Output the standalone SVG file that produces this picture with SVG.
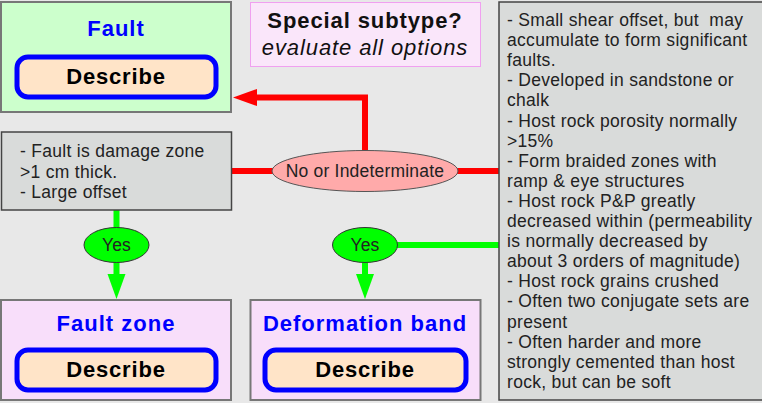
<svg xmlns="http://www.w3.org/2000/svg" width="762" height="403" viewBox="0 0 762 403">
<defs>
<style>
.bg{fill:#e8e8e8}
.box{stroke:#777;stroke-width:2}
.note{fill:#d9dbda;stroke:#444;stroke-width:1.5}
.title{font-family:"Liberation Sans",Arial,sans-serif;font-weight:bold;font-size:22px;fill:#0000ff;text-anchor:middle;letter-spacing:1px}
.btn{fill:#ffe4c8;stroke:#0000ff;stroke-width:5}
.btnt{font-family:"Liberation Sans",Arial,sans-serif;font-weight:bold;font-size:22px;fill:#000;text-anchor:middle;letter-spacing:0.8px}
.hd{font-family:"Liberation Sans",Arial,sans-serif;font-size:22px;fill:#111;text-anchor:middle;letter-spacing:0.9px}
.txt{font-family:"Liberation Sans",Arial,sans-serif;font-size:17.5px;fill:#222;letter-spacing:0.3px}
.lbl{font-family:"Liberation Sans",Arial,sans-serif;font-size:17.5px;fill:#222;text-anchor:middle;letter-spacing:0.2px}
.red{stroke:#ff0000;stroke-width:6;fill:none}
.grn{stroke:#00ff00;stroke-width:6;fill:none}
</style>
</defs>
<rect class="bg" x="0" y="0" width="762" height="403"/>

<g id="connectors">
<path class="red" d="M231 171 H499"/>
<path class="red" d="M365 171 V97.5 H252"/>
<polygon points="233,97.5 257,89 257,106" fill="#ff0000"/>
<path class="grn" d="M116.5 210 V278"/>
<polygon points="107.5,274 125.5,274 116.5,299" fill="#00ff00"/>
<path class="grn" d="M365 245 H499"/>
<path class="grn" d="M365 262 V278"/>
<polygon points="356,274 374,274 365,299" fill="#00ff00"/>
</g>

<g id="fault">
<rect class="box" x="1" y="2" width="230" height="110" fill="#ccffcc"/>
<text class="title" x="116" y="36">Fault</text>
<rect class="btn" x="17" y="57" width="199" height="40" rx="11"/>
<text class="btnt" x="116" y="84">Describe</text>
</g>

<g id="special">
<rect x="250.5" y="2.5" width="230" height="64" fill="#fae6fa" stroke="#f0a0f0" stroke-width="1"/>
<text class="hd" x="365" y="28" font-weight="bold">Special subtype?</text>
<text class="hd" x="365" y="55" font-style="italic">evaluate all options</text>
</g>

<g id="criteria">
<rect class="note" x="499" y="2" width="265" height="398"/>
<text class="txt">
<tspan x="507" y="26">- Small shear offset, but&#160; may</tspan>
<tspan x="507" y="46.1">accumulate to form significant</tspan>
<tspan x="507" y="66.2">faults.</tspan>
<tspan x="507" y="86.3">- Developed in sandstone or</tspan>
<tspan x="507" y="106.4">chalk</tspan>
<tspan x="507" y="126.5">- Host rock porosity normally</tspan>
<tspan x="507" y="146.6">&gt;15%</tspan>
<tspan x="507" y="166.7">- Form braided zones with</tspan>
<tspan x="507" y="186.8">ramp &amp; eye structures</tspan>
<tspan x="507" y="206.9">- Host rock P&amp;P greatly</tspan>
<tspan x="507" y="227">decreased within (permeability</tspan>
<tspan x="507" y="247.1">is normally decreased by</tspan>
<tspan x="507" y="267.2">about 3 orders of magnitude)</tspan>
<tspan x="507" y="287.3">- Host rock grains crushed</tspan>
<tspan x="507" y="307.4">- Often two conjugate sets are</tspan>
<tspan x="507" y="327.5">present</tspan>
<tspan x="507" y="347.6">- Often harder and more</tspan>
<tspan x="507" y="367.7">strongly cemented than host</tspan>
<tspan x="507" y="387.8">rock, but can be soft</tspan>
</text>
</g>

<g id="damage">
<rect class="note" x="1.5" y="132" width="230" height="78"/>
<text class="txt">
<tspan x="20" y="157">- Fault is damage zone</tspan>
<tspan x="20" y="177.5">&gt;1 cm thick.</tspan>
<tspan x="20" y="198">- Large offset</tspan>
</text>
</g>

<g id="no">
<ellipse cx="365" cy="171" rx="93" ry="20.5" fill="#ffaaaa" stroke="#555" stroke-width="1"/>
<text class="lbl" x="365" y="177">No or Indeterminate</text>
</g>

<g id="yes1">
<ellipse cx="116.5" cy="245" rx="32.5" ry="17.5" fill="#00ff00" stroke="#333" stroke-width="1"/>
<text class="lbl" x="116.5" y="250.5">Yes</text>
</g>

<g id="yes2">
<ellipse cx="365" cy="245" rx="32.5" ry="17.5" fill="#00ff00" stroke="#333" stroke-width="1"/>
<text class="lbl" x="365" y="250.5">Yes</text>
</g>

<g id="faultzone">
<rect class="box" x="1" y="300" width="230" height="100" fill="#f8defa"/>
<text class="title" x="116" y="331">Fault zone</text>
<rect class="btn" x="17" y="350" width="199" height="40" rx="11"/>
<text class="btnt" x="116" y="377">Describe</text>
</g>

<g id="defband">
<rect class="box" x="250.5" y="300" width="230" height="100" fill="#f8defa"/>
<text class="title" x="365" y="331">Deformation band</text>
<rect class="btn" x="265" y="350" width="201" height="40" rx="11"/>
<text class="btnt" x="365" y="377">Describe</text>
</g>
</svg>
